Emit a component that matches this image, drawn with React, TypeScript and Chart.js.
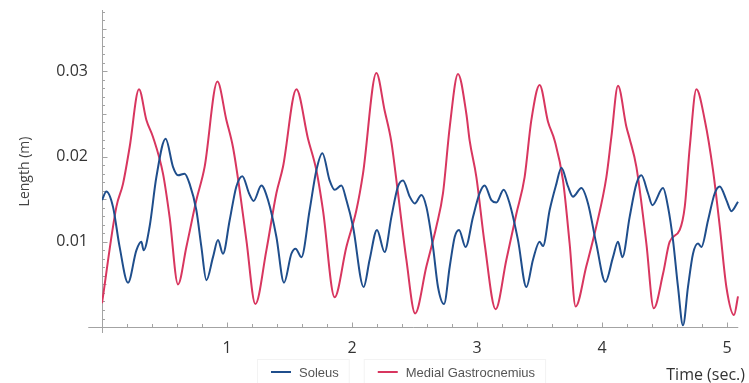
import React, { useEffect, useRef } from "react";
import { Chart, registerables } from "chart.js";

Chart.register(...registerables);

// ---- data ----
const soleusTime = [
  0, 0.035, 0.088, 0.141, 0.208, 0.275, 0.315, 0.333, 0.381, 0.435, 0.509, 0.568, 0.608, 0.661, 0.701, 0.755,
  0.795, 0.835, 0.888, 0.928, 0.968, 1.021, 1.075, 1.123, 1.176, 1.213, 1.275, 1.328, 1.395, 1.456, 1.515,
  1.549, 1.595, 1.661, 1.715, 1.763, 1.821, 1.861, 1.915, 1.955, 2.008, 2.093, 2.141, 2.2, 2.261, 2.315,
  2.368, 2.408, 2.462, 2.502, 2.555, 2.595, 2.648, 2.688, 2.736, 2.782, 2.822, 2.856, 2.909, 2.968, 3.021,
  3.061, 3.115, 3.155, 3.213, 3.261, 3.328, 3.395, 3.448, 3.501, 3.528, 3.581, 3.635, 3.675, 3.728, 3.768,
  3.835, 3.888, 3.954, 4.027, 4.088, 4.128, 4.163, 4.221, 4.275, 4.315, 4.368, 4.403, 4.488, 4.528, 4.568,
  4.608, 4.648, 4.688, 4.728, 4.768, 4.795, 4.848, 4.902, 4.942, 4.995, 5.035, 5.088,
];
const soleusLength = [
  0.0149, 0.0159, 0.0141, 0.0094, 0.0052, 0.009, 0.01, 0.009, 0.0118, 0.0176, 0.0221, 0.0188, 0.0178, 0.018, 0.0168, 0.0137,
  0.0094, 0.0055, 0.0082, 0.0102, 0.0086, 0.0125, 0.0165, 0.0177, 0.0157, 0.0148, 0.0166, 0.0149, 0.0106, 0.0052, 0.0086,
  0.0092, 0.0082, 0.0137, 0.0184, 0.0204, 0.0172, 0.0161, 0.0166, 0.0149, 0.0118, 0.0047, 0.0079, 0.0114, 0.0088, 0.0129,
  0.0165, 0.0172, 0.0153, 0.0145, 0.0155, 0.0141, 0.0094, 0.0047, 0.0027, 0.0071, 0.0106, 0.0114, 0.0094, 0.0129, 0.0157,
  0.0166, 0.0149, 0.0146, 0.0161, 0.0145, 0.0102, 0.0047, 0.0079, 0.01, 0.0095, 0.0137, 0.0168, 0.0187, 0.0165, 0.0153,
  0.0163, 0.0145, 0.0098, 0.0053, 0.0082, 0.01, 0.0082, 0.0129, 0.0168, 0.0178, 0.0157, 0.0143, 0.0163, 0.0141, 0.0102,
  0.0047, 0.0002, 0.0047, 0.0086, 0.0098, 0.0094, 0.0125, 0.0157, 0.0165, 0.0149, 0.0136, 0.0147,
];
const gastrocTime = [
  0, 0.115, 0.168, 0.221, 0.296, 0.355, 0.408, 0.488, 0.541, 0.608, 0.675, 0.755, 0.821, 0.923, 0.995, 1.048,
  1.101, 1.155, 1.227, 1.315, 1.395, 1.448, 1.555, 1.648, 1.715, 1.768, 1.861, 1.955, 2.035, 2.088, 2.195,
  2.261, 2.315, 2.368, 2.435, 2.505, 2.595, 2.675, 2.728, 2.782, 2.848, 2.915, 2.941, 2.995, 3.061, 3.149,
  3.235, 3.315, 3.381, 3.435, 3.501, 3.568, 3.621, 3.688, 3.741, 3.789, 3.874, 3.954, 4.035, 4.075, 4.128,
  4.195, 4.221, 4.275, 4.355, 4.414, 4.489, 4.541, 4.622, 4.662, 4.702, 4.755, 4.822, 4.888, 4.942, 4.995,
  5.056, 5.088,
];
const gastrocLength = [
  0.0028, 0.0141, 0.0168, 0.0211, 0.0279, 0.0243, 0.0223, 0.018, 0.0129, 0.005, 0.0094, 0.0149, 0.0188, 0.0288, 0.0243, 0.0211,
  0.0161, 0.0102, 0.0027, 0.009, 0.0157, 0.0188, 0.0279, 0.0221, 0.0184, 0.0137, 0.0035, 0.0094, 0.0137, 0.018, 0.0298,
  0.0254, 0.0217, 0.0157, 0.0079, 0.0016, 0.0071, 0.0118, 0.0157, 0.0235, 0.0297, 0.025, 0.0219, 0.0176, 0.0098, 0.0021,
  0.0079, 0.0133, 0.0176, 0.0243, 0.0284, 0.0241, 0.0219, 0.0172, 0.0098, 0.0024, 0.0071, 0.0118, 0.0176, 0.0223, 0.0283,
  0.0235, 0.0221, 0.0188, 0.0098, 0.0022, 0.0063, 0.01, 0.0114, 0.0141, 0.0211, 0.0279, 0.0243, 0.0184, 0.0118, 0.0047,
  0.0014, 0.0036,
];
const seriesLabels = ["Soleus", "Medial Gastrocnemius"];
const seriesColors = ["#1f4e8c", "#d8365f"];
const xTickValues = [1, 2, 3, 4, 5];
const yTickValues = [0.01, 0.02, 0.03];
const xAxisTitle = "Time (sec.)";
const yAxisTitle = "Length (m)";

// Mathematica-style axes crossing at the origin, with inward ticks
const axesPlugin = {
  id: "mathAxes",
  beforeDatasetsDraw(chart: any) {
    const { ctx, scales } = chart;
    const x = scales.x;
    const y = scales.y;
    const x0 = Math.round(x.getPixelForValue(0)) + 0.5;
    const y0 = Math.round(y.getPixelForValue(0)) + 0.5;
    ctx.save();
    ctx.strokeStyle = "#a3a3a3";
    ctx.lineWidth = 1;
    ctx.beginPath();
    ctx.moveTo(x.getPixelForValue(-0.11), y0);
    ctx.lineTo(x.getPixelForValue(5.09), y0);
    ctx.moveTo(x0, y.getPixelForValue(-0.0007));
    ctx.lineTo(x0, y.getPixelForValue(0.0372));
    for (let k = 1; k <= 25; k++) {
      const px = Math.round(x.getPixelForValue(k * 0.2)) + 0.5;
      const len = k % 5 === 0 ? 5 : 3.5;
      ctx.moveTo(px, y0);
      ctx.lineTo(px, y0 - len);
    }
    for (let k = 1; k <= 37; k++) {
      const py = Math.round(y.getPixelForValue(k * 0.001)) + 0.5;
      const len = k % 10 === 0 ? 5 : k % 5 === 0 ? 4 : 2.5;
      ctx.moveTo(x0, py);
      ctx.lineTo(x0 + len, py);
    }
    ctx.stroke();
    ctx.restore();
  },
};

// legend drawn under the plot, next to the axis title
const legendPlugin = {
  id: "bottomLegend",
  afterDraw(chart: any) {
    const { ctx } = chart;
    ctx.save();
    ctx.font = '13px "Liberation Sans", Arial, sans-serif';
    ctx.textBaseline = "middle";
    let cx = 271;
    const cy = 372;
    chart.data.datasets.forEach((ds: any) => {
      const tw = ctx.measureText(ds.label).width;
      ctx.strokeStyle = "#f3f3f3";
      ctx.lineWidth = 1;
      ctx.strokeRect(cx - 13.5, 359.5, tw + 28 + 24, 26);
      ctx.strokeStyle = ds.borderColor;
      ctx.lineWidth = 2;
      ctx.beginPath();
      ctx.moveTo(cx, cy);
      ctx.lineTo(cx + 20, cy);
      ctx.stroke();
      ctx.fillStyle = "#555";
      ctx.fillText(ds.label, cx + 28, cy + 1);
      cx += 28 + tw + 39;
    });
    ctx.restore();
  },
};

export default function App() {
  const canvasRef = useRef<HTMLCanvasElement | null>(null);

  useEffect(() => {
    document.body.style.margin = "0";
    const canvas = canvasRef.current;
    if (!canvas) return;
    const tickFont = { family: "'Open Sans', sans-serif", size: 16 };
    const chart = new Chart(canvas, {
      type: "line",
      data: {
        datasets: [
          {
            label: seriesLabels[0],
            data: soleusTime.map((t, i) => ({ x: t, y: soleusLength[i] })),
            borderColor: seriesColors[0],
            backgroundColor: seriesColors[0],
            borderWidth: 2,
            pointRadius: 0,
            cubicInterpolationMode: "monotone",
            fill: false,
          },
          {
            label: seriesLabels[1],
            data: gastrocTime.map((t, i) => ({ x: t, y: gastrocLength[i] })),
            borderColor: seriesColors[1],
            backgroundColor: seriesColors[1],
            borderWidth: 2,
            pointRadius: 0,
            cubicInterpolationMode: "monotone",
            fill: false,
          },
        ],
      },
      options: {
        animation: false,
        responsive: false,
        maintainAspectRatio: false,
        layout: { padding: { left: 0, right: 4, top: 10, bottom: 50 } },
        plugins: {
          legend: { display: false },
          tooltip: { enabled: false },
        },
        scales: {
          x: {
            type: "linear",
            position: { y: 0 } as any,
            min: 0,
            max: 5.144,
            grid: { display: false, drawTicks: false },
            border: { display: false },
            afterFit: (scale: any) => {
              scale.paddingLeft = 0;
              scale.paddingRight = 0;
            },
            afterBuildTicks: (axis: any) => {
              axis.ticks = xTickValues.map((value) => ({ value }));
            },
            ticks: {
              padding: 12,
              color: "#333",
              font: tickFont,
              maxRotation: 0,
              callback: (v: any) => String(v),
            },
            title: {
              display: true,
              text: xAxisTitle,
              align: "end",
              color: "#333",
              font: { family: "'Open Sans', sans-serif", size: 16 },
              padding: { top: -4, bottom: 0 },
            },
          },
          y: {
            type: "linear",
            position: "left",
            min: -0.0007,
            max: 0.0372,
            grid: { display: false, drawTicks: false },
            border: { display: false },
            afterFit: (scale: any) => {
              scale.width = 102;
              scale.paddingTop = 0;
              scale.paddingBottom = 0;
            },
            afterBuildTicks: (axis: any) => {
              axis.ticks = yTickValues.map((value) => ({ value }));
            },
            ticks: {
              padding: 14,
              color: "#333",
              font: tickFont,
              callback: (v: any) => Number(v).toFixed(2),
            },
            title: {
              display: true,
              text: yAxisTitle,
              color: "#444",
              font: { family: "'Open Sans', sans-serif", size: 14 },
              padding: { top: 16.6, bottom: 0 },
            },
          },
        },
      },
      plugins: [axesPlugin, legendPlugin],
    });
    return () => chart.destroy();
  }, []);

  return (
    <div style={{ width: 749, height: 383, position: "relative", background: "#fff" }}>
      <canvas ref={canvasRef} width={749} height={383} style={{ display: "block" }} />
    </div>
  );
}
